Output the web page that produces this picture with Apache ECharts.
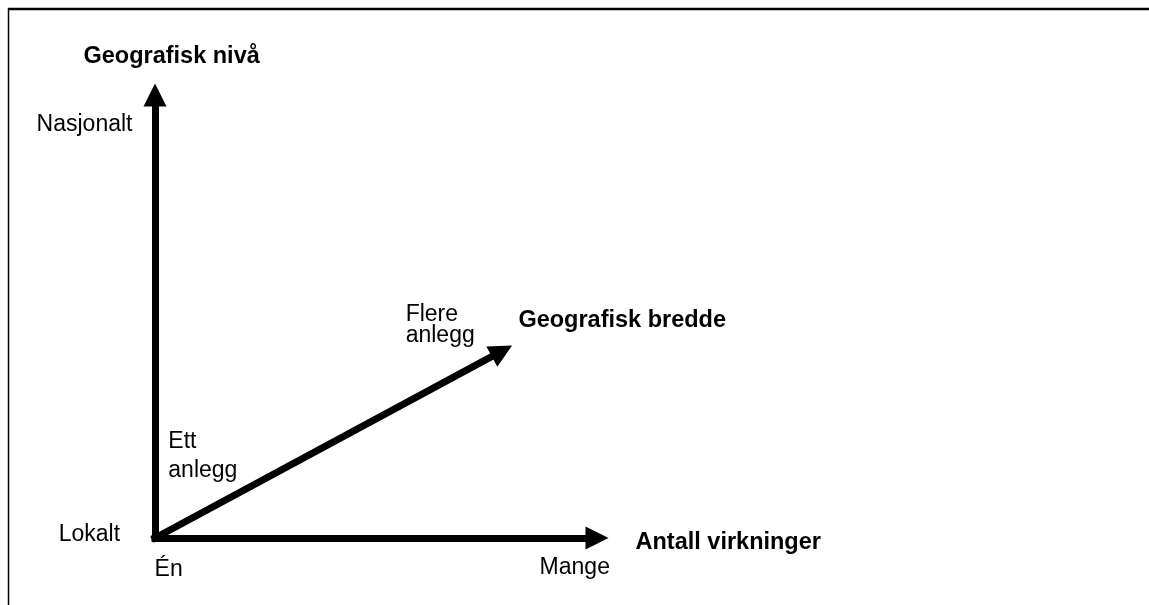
<!DOCTYPE html>
<html lang="no">
<head>
    <meta charset="UTF-8">
    <title>Geografisk nivå / bredde</title>
    <script src="https://cdn.jsdelivr.net/npm/echarts@6/dist/echarts.min.js"></script>
    <style>
        html, body {
            margin: 0;
            padding: 0;
            background: #fff;
        }

        #main {
            width: 1149px;
            height: 605px;
        }
    </style>
</head>
<body>
<div id="main"></div>

<script type="text/javascript">
    // piler (alle starter i origo), verdier i diagrammets egne enheter
    var arrowNames = ['Antall virkninger', 'Geografisk nivå', 'Geografisk bredde'];
    var arrowStartX = [0, 0, 0];
    var arrowStartY = [0, 0, 0];
    var arrowEndX = [10, 0, 7.85];
    var arrowEndY = [0, 10, 4.22];

    // tekster rundt pilene
    var labelTexts = ['Geografisk nivå', 'Nasjonalt', 'Flere', 'anlegg', 'Geografisk bredde',
        'Ett', 'anlegg', 'Lokalt', 'Én', 'Mange', 'Antall virkninger'];
    var labelX = [-1.63, -2.69, 5.66, 5.66, 8.21, 0.29, 0.29, -2.19, -0.02, 8.69, 10.86];
    var labelY = [10.88, 9.33, 5.05, 4.56, 4.90, 2.17, 1.51, 0.07, -0.72, -0.67, -0.11];
    var labelBold = [true, false, false, false, true, false, false, false, false, false, true];

    var myChart = echarts.init(document.getElementById('main'));

    var lineData = arrowNames.map(function (name, i) {
        return {
            name: name,
            coords: [[arrowStartX[i], arrowStartY[i]], [arrowEndX[i], arrowEndY[i]]]
        };
    });

    var textData = labelTexts.map(function (t, i) {
        return {
            value: [labelX[i], labelY[i]],
            label: {
                formatter: t,
                color: '#000',
                fontSize: labelBold[i] ? 23.5 : 23,
                fontWeight: labelBold[i] ? 'bold' : 'normal'
            }
        };
    });

    var option = {
        animation: false,
        backgroundColor: '#fff',
        grid: {left: 155, right: 552, top: 95, bottom: 67},
        xAxis: {type: 'value', min: 0, max: 10, show: false},
        yAxis: {type: 'value', min: 0, max: 10, show: false},
        graphic: [
            // ramme oppe og til venstre
            {type: 'line', shape: {x1: 8, y1: 9, x2: 1149, y2: 9}, style: {stroke: '#000', lineWidth: 2.5}},
            {type: 'line', shape: {x1: 8.5, y1: 8, x2: 8.5, y2: 605}, style: {stroke: '#000', lineWidth: 1.5}}
        ],
        series: [{
            type: 'lines',
            coordinateSystem: 'cartesian2d',
            clip: false,
            silent: true,
            symbol: ['none', 'triangle'],
            symbolSize: [24, 23],
            lineStyle: {color: '#000', width: 7, opacity: 1, cap: 'square'},
            itemStyle: {color: '#000'},
            data: lineData
        }, {
            type: 'scatter',
            clip: false,
            silent: true,
            symbolSize: 1,
            itemStyle: {color: 'rgba(0,0,0,0)'},
            label: {
                show: true,
                position: 'right',
                distance: 0,
                color: '#000',
                opacity: 1,
                textBorderWidth: 0,
                fontSize: 23,
                fontFamily: 'Liberation Sans, Arial, sans-serif',
                verticalAlign: 'middle'
            },
            data: textData
        }]
    };

    myChart.setOption(option);
</script>
</body>
</html>
